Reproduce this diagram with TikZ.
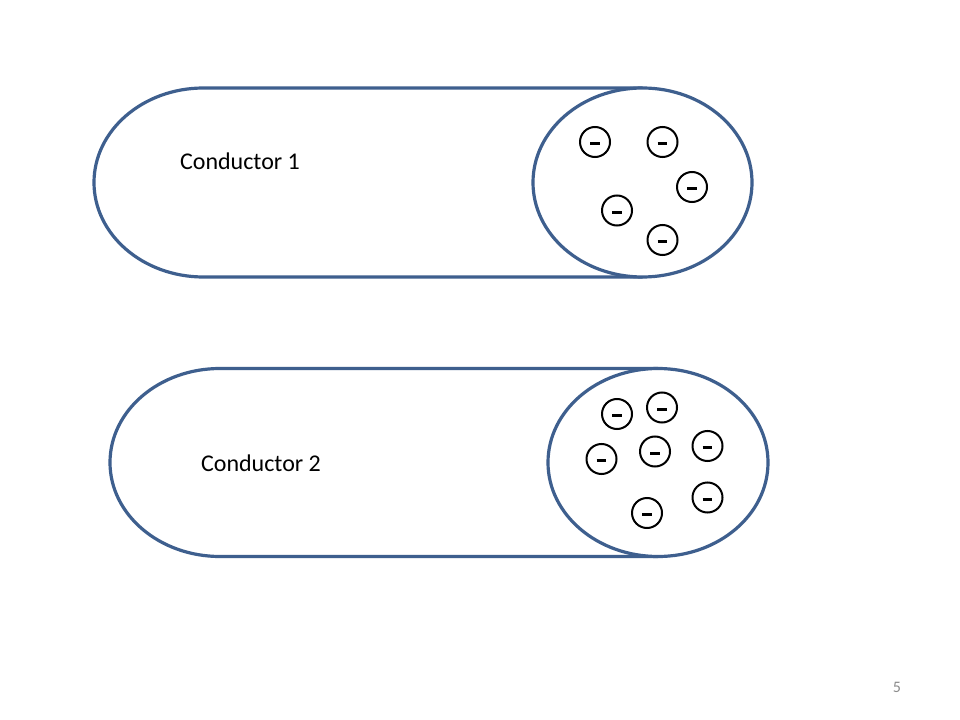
\documentclass[tikz,border=0pt]{standalone}
\usepackage{fontspec}
\setmainfont{Carlito}
\usetikzlibrary{shapes.geometric}
\definecolor{outl}{HTML}{3E5F8E}
\definecolor{pgnum}{HTML}{8C8C8C}
\begin{document}
\begin{tikzpicture}[x=0.75pt,y=-0.75pt,
  body/.style={draw=outl,line width=2.4pt,fill=white},
  electron/.style={circle,draw=black,line width=1.5pt,fill=white,minimum size=22.5pt,inner sep=0pt,
    path picture={\draw[line width=2.2pt] ([xshift=-3.6pt,yshift=-1.3pt]path picture bounding box.center) -- ([xshift=3.6pt,yshift=-1.3pt]path picture bounding box.center);}},
  label/.style={font=\fontsize{18}{21}\selectfont,text=black}]
\useasboundingbox[fill=white] (0,0) rectangle (960,720);
% Conductor 1
\draw[body] (642.5,88) -- (203.5,88) arc[start angle=270,end angle=90,x radius=109.5,y radius=94.5] -- (642.5,277);
\node[body,ellipse,minimum width=164.25pt,minimum height=141.75pt,inner sep=0pt] (end1) at (642.5,182.5) {};
\node[label] (c1) at (240,161) {Conductor 1};
\node[electron] (a1) at (595,142) {};
\node[electron] (a2) at (662.5,142) {};
\node[electron] (a3) at (692,187) {};
\node[electron] (a4) at (617,210.5) {};
\node[electron] (a5) at (662.5,240) {};
% Conductor 2
\draw[body] (658,368.5) -- (220,368.5) arc[start angle=270,end angle=90,x radius=110,y radius=94] -- (658,556.5);
\node[body,ellipse,minimum width=165pt,minimum height=141pt,inner sep=0pt] (end2) at (658,462.5) {};
\node[label] (c2) at (261,463) {Conductor 2};
\node[electron] (b1) at (617,414) {};
\node[electron] (b2) at (662,407.5) {};
\node[electron] (b3) at (601.5,459) {};
\node[electron] (b4) at (655,451.5) {};
\node[electron] (b5) at (707.5,446) {};
\node[electron] (b6) at (707.5,497.5) {};
\node[electron] (b7) at (647,513) {};
% page number
\node[text=pgnum,font=\fontsize{12}{14}\selectfont] (pg) at (897,687) {5};
\end{tikzpicture}
\end{document}
